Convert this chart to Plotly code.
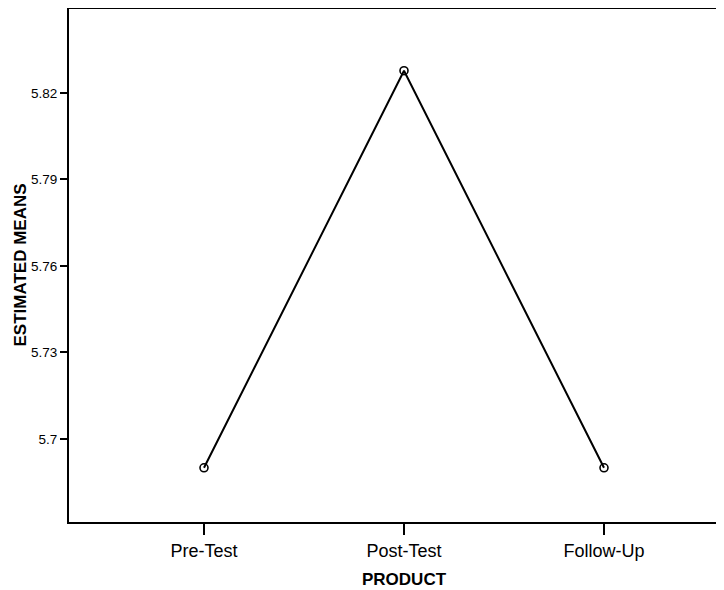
import plotly.graph_objects as go

categories = ["Pre-Test", "Post-Test", "Follow-Up"]
means = [5.690, 5.8277, 5.690]
y_tick_vals = [5.70, 5.73, 5.76, 5.79, 5.82]
y_tick_text = ["5.7", "5.73", "5.76", "5.79", "5.82"]
x_title = "PRODUCT"
y_title = "ESTIMATED MEANS"

fig = go.Figure()
fig.add_trace(go.Scatter(
    x=list(range(len(categories))), y=means,
    mode="lines+markers",
    line=dict(color="black", width=2),
    marker=dict(symbol="circle-open", size=8, color="black", line=dict(width=1.6)),
    showlegend=False,
))

fig.update_layout(
    width=740, height=582,
    margin=dict(l=61, r=0, t=1, b=68),
    paper_bgcolor="white", plot_bgcolor="white",
    font=dict(family="Liberation Sans, Arial, sans-serif", color="black"),
)
fig.update_xaxes(
    range=[-0.675, 2.72],
    tickvals=list(range(len(categories))), ticktext=categories,
    tickfont=dict(size=18),
    ticks="outside", ticklen=11, tickwidth=1.5, tickcolor="black",
    showline=True, linecolor="black", linewidth=2, mirror=True,
    showgrid=False, zeroline=False,
    automargin=False,
)
fig.update_yaxes(
    range=[5.6712, 5.8491],
    tickvals=y_tick_vals, ticktext=y_tick_text,
    tickfont=dict(size=13.5),
    ticks="outside", ticklen=7, tickwidth=1.5, tickcolor="black",
    showline=True, linecolor="black", linewidth=2,
    showgrid=False, zeroline=False,
    automargin=False,
)
fig.add_annotation(
    text="<b>" + x_title + "</b>", xref="x", yref="paper", x=1, y=0,
    xanchor="center", yanchor="middle", yshift=-57, showarrow=False,
    font=dict(size=17),
)
fig.add_annotation(
    text="<b>" + y_title + "</b>", xref="paper", yref="paper", x=0, y=0.5,
    xanchor="center", yanchor="middle", xshift=-49, textangle=-90, showarrow=False,
    font=dict(size=17),
)

fig.write_html("out.html")
